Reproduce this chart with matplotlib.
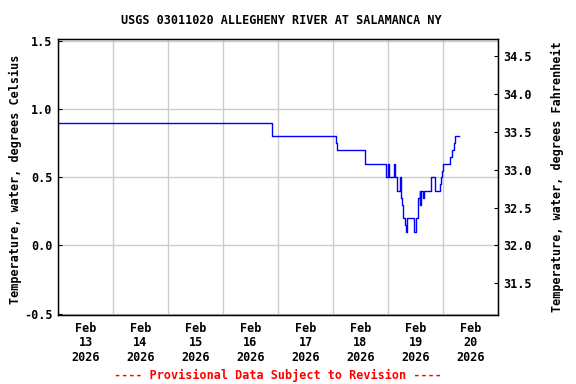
import matplotlib
matplotlib.use('Agg')
from matplotlib import pyplot as plt
import matplotlib.dates as mdates
from matplotlib.ticker import MultipleLocator, FormatStrFormatter
import numpy as np
import pandas as pd

# change points of the 15-minute record (value holds until next time)
times = [
    '2026-02-13 00:00', '2026-02-16 21:15', '2026-02-16 21:30', '2026-02-18 01:30',
    '2026-02-18 01:45', '2026-02-18 14:00', '2026-02-18 23:15', '2026-02-19 00:00',
    '2026-02-19 00:30', '2026-02-19 02:30', '2026-02-19 03:15', '2026-02-19 03:45',
    '2026-02-19 05:15', '2026-02-19 05:45', '2026-02-19 06:00', '2026-02-19 06:45',
    '2026-02-19 07:30', '2026-02-19 07:45', '2026-02-19 08:15', '2026-02-19 11:15',
    '2026-02-19 12:15', '2026-02-19 13:00', '2026-02-19 13:15', '2026-02-19 13:45',
    '2026-02-19 14:00', '2026-02-19 14:30', '2026-02-19 15:15', '2026-02-19 15:45',
    '2026-02-19 18:45', '2026-02-19 20:30', '2026-02-19 22:30', '2026-02-19 23:00',
    '2026-02-19 23:30', '2026-02-20 00:00', '2026-02-20 03:00', '2026-02-20 03:45',
    '2026-02-20 04:45', '2026-02-20 05:15', '2026-02-20 07:00',
]
temp_c = [
    0.90, 0.85, 0.80, 0.75,
    0.70, 0.60, 0.50, 0.60,
    0.50, 0.60, 0.50, 0.40,
    0.50, 0.35, 0.30, 0.20,
    0.15, 0.10, 0.20, 0.10,
    0.20, 0.30, 0.35, 0.40,
    0.30, 0.40, 0.35, 0.40,
    0.50, 0.40, 0.45, 0.50,
    0.55, 0.60, 0.65, 0.70,
    0.75, 0.80, 0.80,
]

day_labels = ['Feb\n13\n2026', 'Feb\n14\n2026', 'Feb\n15\n2026', 'Feb\n16\n2026',
              'Feb\n17\n2026', 'Feb\n18\n2026', 'Feb\n19\n2026', 'Feb\n20\n2026']

title = 'USGS 03011020 ALLEGHENY RIVER AT SALAMANCA NY'
FONT = 'DejaVu Sans Mono'
FS = 8.5

t = pd.to_datetime(times)
days = pd.date_range('2026-02-13', '2026-02-21', freq='D')

fig = plt.figure(figsize=(5.76, 3.84), dpi=100)
ax = fig.add_axes([58 / 576, 1 - 315 / 384, 440 / 576, 276 / 384])

ax.plot(t, temp_c, color='#0000ff', lw=1, drawstyle='steps-post')

ax.set_xlim(days[0], days[-1])
ax.set_ylim(-0.51, 1.515)

# gridlines at midnight, labels at noon
ax.set_xticks(days)
ax.set_xticklabels([])
ax.set_xticks(days[:-1] + pd.Timedelta(hours=12), minor=True)
ax.set_xticklabels(day_labels, minor=True, fontfamily=FONT, fontsize=FS,
                   fontweight='bold', linespacing=1.15)
ax.tick_params(axis='x', which='both', length=0, pad=5)

ax.yaxis.set_major_locator(MultipleLocator(0.5))
ax.yaxis.set_major_formatter(FormatStrFormatter('%.1f'))
ax.tick_params(axis='y', direction='in', length=3, pad=4)
for lab in ax.get_yticklabels():
    lab.set_fontfamily(FONT)
    lab.set_fontsize(FS)
    lab.set_fontweight('bold')

ax.grid(True, which='major', color='#cccccc', lw=1)
ax.set_axisbelow(True)
for s in ax.spines.values():
    s.set_linewidth(1)

ax2 = ax.twinx()
ax2.set_ylim(ax.get_ylim()[0] * 1.8 + 32, ax.get_ylim()[1] * 1.8 + 32)
ax2.yaxis.set_major_formatter(FormatStrFormatter('%.1f'))
ax2.set_yticks(np.arange(31.5, 34.51, 0.5))
ax2.tick_params(axis='y', direction='in', length=3, pad=4)
for lab in ax2.get_yticklabels():
    lab.set_fontfamily(FONT)
    lab.set_fontsize(FS)
    lab.set_fontweight('bold')

ax.set_ylabel('Temperature, water, degrees Celsius', fontfamily=FONT,
              fontsize=FS, fontweight='bold')
ax.yaxis.set_label_coords(-0.082, 0.49)
ax2.set_ylabel('Temperature, water, degrees Fahrenheit', fontfamily=FONT,
               fontsize=FS, fontweight='bold')
ax2.yaxis.set_label_coords(1.12, 0.5)

fig.text(281 / 576, 1 - 20 / 384, title, ha='center', va='center',
         fontfamily=FONT, fontsize=FS, fontweight='bold')
fig.text(278 / 576, 1 - 375 / 384, '---- Provisional Data Subject to Revision ----',
         ha='center', va='center', color='red', fontfamily=FONT, fontsize=FS,
         fontweight='bold')

fig.savefig('out.png', dpi=100)
